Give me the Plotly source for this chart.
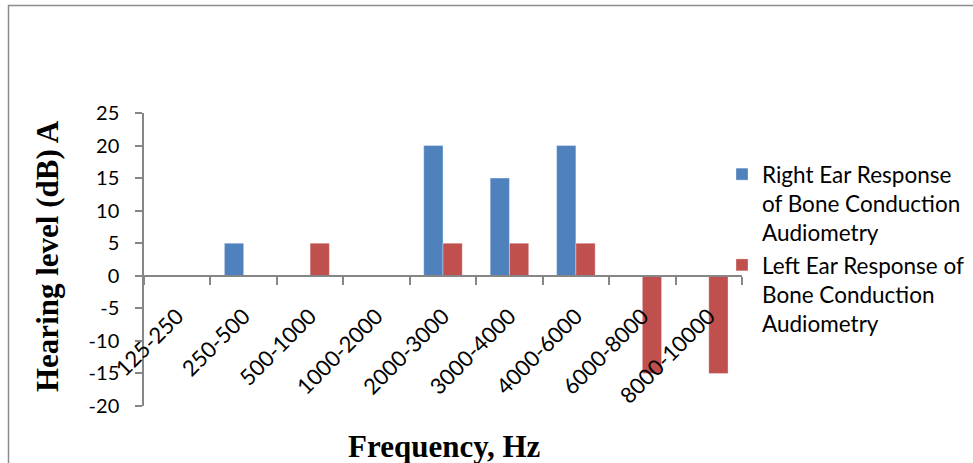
import plotly.graph_objects as go

# Frequency bands and bone-conduction hearing levels (dB)
bands = ["125-250", "250-500", "500-1000", "1000-2000", "2000-3000",
         "3000-4000", "4000-6000", "6000-8000", "8000-10000"]
right_ear = [0, 5, 0, 0, 20, 15, 20, 0, 0]
left_ear = [0, 0, 5, 0, 5, 5, 5, -15, -15]
y_ticks = [25, 20, 15, 10, 5, 0, -5, -10, -15, -20]

W, H = 973, 463
L, R, T, B = 144, 231, 113, 57
PW, PH = W - L - R, H - T - B
Y_MIN, Y_MAX = -20, 25


def px(x):
    return (x - L) / PW


def py(y):
    return 1 - (y - T) / PH


AXIS_GREY = "#868686"
Y_TICK_FONT = dict(family="Lato", size=20, color="black")
X_TICK_FONT = dict(family="Lato", size=22, color="black")

fig = go.Figure()
fig.add_trace(go.Bar(
    x=bands, y=right_ear,
    name="Right Ear Response<br>of Bone Conduction<br>Audiometry",
    marker=dict(color="#4F81BD", line=dict(color="rgba(255,255,255,0.35)", width=1)),
))
fig.add_trace(go.Bar(
    x=bands, y=left_ear,
    name="Left Ear Response of<br>Bone Conduction<br>Audiometry",
    marker=dict(color="#C0504D", line=dict(color="rgba(255,255,255,0.35)", width=1)),
))

zero_pos = (0 - Y_MIN) / (Y_MAX - Y_MIN)

fig.update_layout(
    width=W, height=H,
    margin=dict(l=L, r=R, t=T, b=B, autoexpand=False),
    paper_bgcolor="white", plot_bgcolor="white",
    barmode="group", bargap=0.42, bargroupgap=0,
    font=Y_TICK_FONT,
    xaxis=dict(
        type="category",
        anchor="free", position=zero_pos,
        showline=True, linecolor=AXIS_GREY, linewidth=2,
        ticks="outside", tickson="boundaries", ticklen=8, tickwidth=2,
        tickcolor=AXIS_GREY, tickangle=-45, tickfont=X_TICK_FONT,
        ticklabelstandoff=18,
        showgrid=False, zeroline=False,
    ),
    yaxis=dict(
        range=[Y_MIN, Y_MAX],
        tickvals=y_ticks, ticktext=[str(v) for v in y_ticks],
        showline=True, linecolor=AXIS_GREY, linewidth=1.5,
        ticks="outside", ticklen=7, tickwidth=1.5, tickcolor=AXIS_GREY,
        tickfont=Y_TICK_FONT, ticklabelstandoff=12,
        showgrid=False, zeroline=False,
    ),
    legend=dict(
        x=px(722), y=py(153), xanchor="left", yanchor="top",
        font=dict(family="Lato", size=22.5, color="black"),
        valign="top", tracegroupgap=0,
        bgcolor="rgba(0,0,0,0)",
    ),
    annotations=[
        dict(text="<b>Frequency, Hz</b>", xref="paper", yref="paper",
             x=px(444), y=py(446), xanchor="center", yanchor="middle",
             showarrow=False,
             font=dict(family="Liberation Serif", size=31, color="black")),
        dict(text="<b>Hearing level (dB) A</b>", xref="paper", yref="paper",
             x=px(48), y=py(256), xanchor="center", yanchor="middle",
             textangle=-90, showarrow=False,
             font=dict(family="Liberation Serif", size=31, color="black")),
    ],
    shapes=[
        dict(type="rect", xref="paper", yref="paper",
             x0=px(8.5), x1=px(1010), y0=py(520), y1=py(5.5),
             line=dict(color="#8C8C8C", width=1.5), fillcolor="rgba(0,0,0,0)",
             layer="below"),
    ],
)

fig.write_html("out.html")
